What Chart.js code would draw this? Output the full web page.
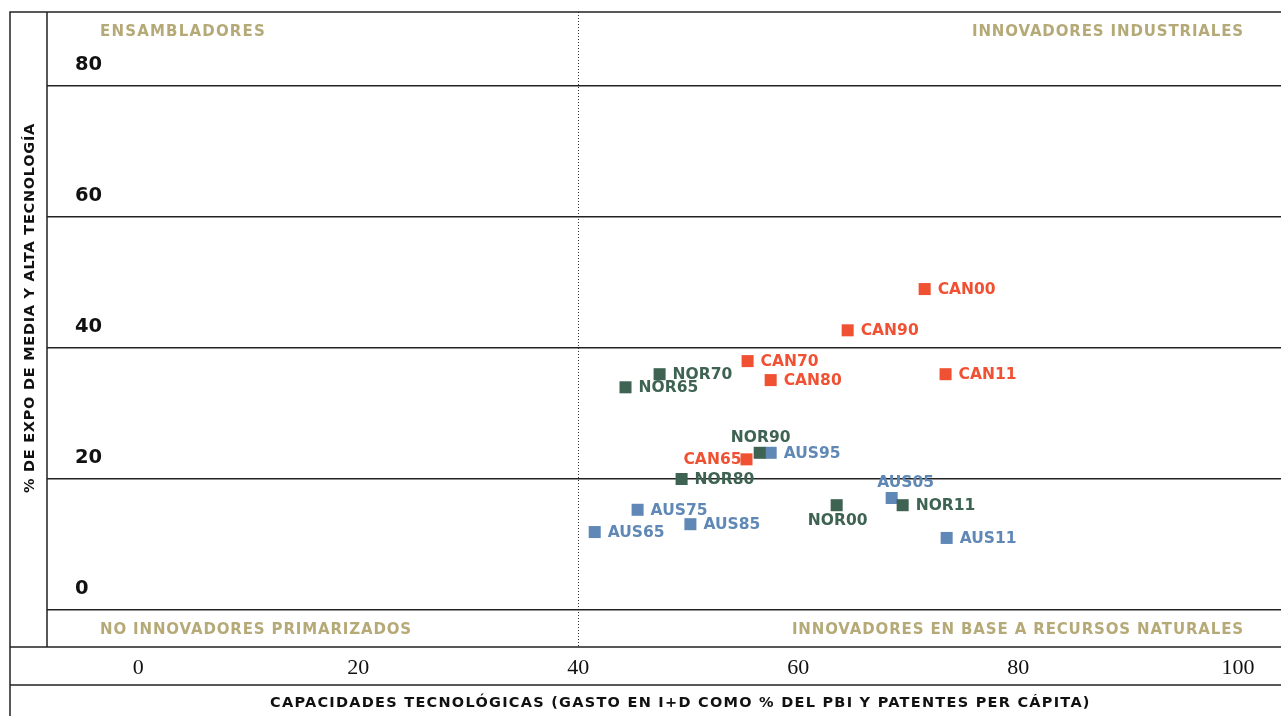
<!DOCTYPE html>
<html>
<head>
<meta charset="utf-8">
<script src="https://cdn.jsdelivr.net/npm/chart.js@4.4.1/dist/chart.umd.min.js"></script>
<style>
html,body{margin:0;padding:0;background:#fff;}
#wrap{width:1281px;height:716px;position:relative;}
</style>
</head>
<body>
<div id="wrap"><canvas id="quadChart"></canvas></div>
<script>
// datos
const canLabels=['CAN65','CAN70','CAN80','CAN90','CAN00','CAN11'];
const canX=[55.3,55.4,57.5,64.5,71.5,73.4];
const canY=[23,38,35.1,42.7,49,36];

const norLabels=['NOR65','NOR70','NOR80','NOR90','NOR00','NOR11'];
const norX=[44.3,47.4,49.4,56.5,63.5,69.5];
const norY=[34,36,20,24,16,16];

const ausLabels=['AUS65','AUS75','AUS85','AUS95','AUS05','AUS11'];
const ausX=[41.5,45.4,50.2,57.5,68.5,73.5];
const ausY=[11.9,15.3,13.1,24,17.1,11];

const xTicks=[0,20,40,60,80,100];
const yTicks=[0,20,40,60,80];
const xDivider=40;

const quadrantLabels=['ENSAMBLADORES','INNOVADORES INDUSTRIALES','NO INNOVADORES PRIMARIZADOS','INNOVADORES EN BASE A RECURSOS NATURALES'];
const xTitle='CAPACIDADES TECNOLÓGICAS (GASTO EN I+D COMO % DEL PBI Y PATENTES PER CÁPITA)';
const yTitle='% DE EXPO DE MEDIA Y ALTA TECNOLOGÍA';

// donde va cada etiqueta (por defecto a la derecha)
const labelSide={CAN65:'left',NOR90:'top',AUS05:'top',NOR00:'bottom'};

const RED='#f05133', GREEN='#3e6352', BLUE='#5f88b6', KHAKI='#b5aa77';
const FONT='"DejaVu Sans"';

function toPts(xs,ys){
  return xs.map((x,i)=>({x:x,y:ys[i]}));
}

// ajusta el espaciado para que el texto ocupe el ancho pedido
function spaced(c,txt,font,width){
  c.font=font;
  c.letterSpacing='0px';
  const w=c.measureText(txt).width;
  c.letterSpacing=((width-w)/txt.length).toFixed(2)+'px';
}

const frame={
  id:'frame',
  afterDraw(chart){
    const c=chart.ctx, a=chart.chartArea;
    c.save();
    c.strokeStyle='#222';
    c.lineWidth=1.5;
    c.beginPath();
    c.moveTo(10,716); c.lineTo(10,a.top); c.lineTo(chart.width,a.top);
    c.moveTo(a.left,a.top); c.lineTo(a.left,a.bottom);
    c.moveTo(10,a.bottom); c.lineTo(chart.width,a.bottom);
    c.moveTo(10,685); c.lineTo(chart.width,685);
    c.stroke();

    // cuadrantes
    const qf='bold 15px '+FONT;
    c.fillStyle=KHAKI;
    c.textBaseline='middle';
    c.textAlign='left';
    spaced(c,quadrantLabels[0],qf,166);
    c.fillText(quadrantLabels[0],100,a.top+20);
    spaced(c,quadrantLabels[2],qf,312);
    c.fillText(quadrantLabels[2],100,a.bottom-17);
    c.textAlign='right';
    spaced(c,quadrantLabels[1],qf,272);
    c.fillText(quadrantLabels[1],1244,a.top+20);
    spaced(c,quadrantLabels[3],qf,452);
    c.fillText(quadrantLabels[3],1244,a.bottom-17);

    // titulos de ejes
    c.fillStyle='#111';
    c.textAlign='left';
    spaced(c,xTitle,'bold 14.5px '+FONT,821);
    c.fillText(xTitle,270,703);
    c.translate(30,493);
    c.rotate(-Math.PI/2);
    spaced(c,yTitle,'bold 14.5px '+FONT,370);
    c.fillText(yTitle,0,0);
    c.restore();
  }
};

const pointLabels={
  id:'pointLabels',
  afterDatasetsDraw(chart){
    const c=chart.ctx;
    c.save();
    spaced(c,'CAN00','bold 15.5px '+FONT,58);
    c.textBaseline='middle';
    chart.data.datasets.forEach((ds,di)=>{
      const meta=chart.getDatasetMeta(di);
      c.fillStyle=ds.backgroundColor;
      meta.data.forEach((pt,i)=>{
        const txt=ds.names[i];
        const side=labelSide[txt]||'right';
        if(side==='right'){c.textAlign='left';c.fillText(txt,pt.x+13,pt.y+1);}
        else if(side==='left'){c.textAlign='right';c.fillText(txt,pt.x-5,pt.y+1);}
        else if(side==='top'){c.textAlign='center';c.fillText(txt,pt.x+(txt==='AUS05'?14:1),pt.y-15);}
        else {c.textAlign='center';c.fillText(txt,pt.x+1,pt.y+16);}
      });
    });
    c.restore();
  }
};

const ctx=document.getElementById('quadChart');

new Chart(ctx,{
  type:'scatter',
  data:{
    datasets:[
      {label:'Canadá',names:canLabels,data:toPts(canX,canY),backgroundColor:RED},
      {label:'Noruega',names:norLabels,data:toPts(norX,norY),backgroundColor:GREEN},
      {label:'Australia',names:ausLabels,data:toPts(ausX,ausY),backgroundColor:BLUE}
    ]
  },
  options:{
    responsive:true,
    maintainAspectRatio:false,
    animation:false,
    devicePixelRatio:1,
    layout:{autoPadding:false,padding:{left:47,top:12,right:0,bottom:0}},
    elements:{point:{pointStyle:'rect',radius:8.5,hoverRadius:8.5,borderWidth:0}},
    plugins:{legend:{display:false},tooltip:{enabled:false}},
    scales:{
      x:{
        type:'linear',
        min:-8.3,max:103.9,
        afterBuildTicks(s){s.ticks=xTicks.map(v=>({value:v}));},
        afterFit(s){s.height=69;s.paddingLeft=0;s.paddingRight=0;},
        ticks:{padding:8,maxRotation:0,autoSkip:false,color:'#111',font:{family:'Liberation Serif',size:22}},
        grid:{drawTicks:false,lineWidth:1,color:c=>c.tick&&c.tick.value===xDivider?'#333':'rgba(0,0,0,0)'},
        border:{display:false,dash:[1,2]}
      },
      y:{
        min:-5.65,max:91.3,
        afterBuildTicks(s){s.ticks=yTicks.map(v=>({value:v}));},
        afterFit(s){s.width=0;s.paddingTop=0;s.paddingBottom=0;},
        ticks:{mirror:true,padding:28,labelOffset:-21,color:'#111',font:{family:FONT,weight:'bold',size:19.5}},
        grid:{drawTicks:false,lineWidth:1.5,color:'#222'},
        border:{display:false}
      }
    }
  },
  plugins:[frame,pointLabels]
});
</script>
</body>
</html>
